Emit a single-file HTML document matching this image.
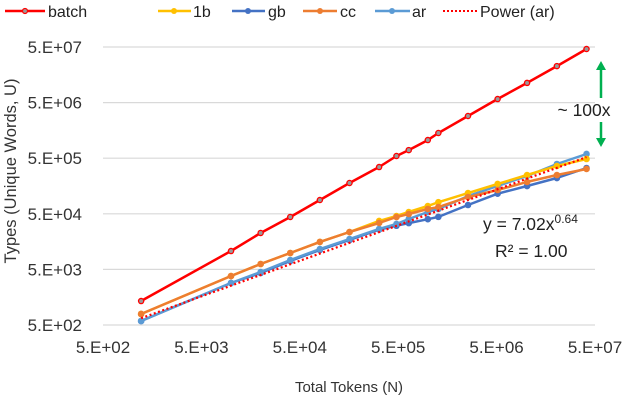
<!DOCTYPE html>
<html><head><meta charset="utf-8"><style>
body{margin:0;background:#fff;}
svg{display:block;font-family:"Liberation Sans",sans-serif;}
</style></head><body>
<svg id="chart" width="640" height="400" viewBox="0 0 640 400">
<g id="grid"></g>
<g id="ticks"></g>
<g id="series"></g>
<text transform="translate(16,171) rotate(-90)" text-anchor="middle" font-size="16.5" fill="#333">Types (Unique Words, U)</text>
<text x="349" y="392" text-anchor="middle" font-size="15" fill="#333">Total Tokens (N)</text>
<g font-size="16" fill="#222">
 <g><line x1="5" y1="11" x2="45" y2="11" stroke="#f00" stroke-width="2.5"/><circle cx="25" cy="11" r="2.5" fill="#999" stroke="#f00" stroke-width="1.2"/><text x="48" y="17">batch</text></g>
 <g><line x1="158" y1="11" x2="191" y2="11" stroke="#ffc000" stroke-width="2.5"/><circle cx="174" cy="11" r="3" fill="#ffc000"/><text x="193" y="17">1b</text></g>
 <g><line x1="232" y1="11" x2="265" y2="11" stroke="#4472c4" stroke-width="2.5"/><circle cx="248" cy="11" r="3" fill="#4472c4"/><text x="268" y="17">gb</text></g>
 <g><line x1="303" y1="11" x2="337" y2="11" stroke="#ed7d31" stroke-width="2.5"/><circle cx="320" cy="11" r="3" fill="#ed7d31"/><text x="340" y="17">cc</text></g>
 <g><line x1="375" y1="11" x2="410" y2="11" stroke="#5b9bd5" stroke-width="2.5"/><circle cx="392" cy="11" r="3" fill="#5b9bd5"/><text x="412" y="17">ar</text></g>
 <g><line x1="443" y1="11" x2="478" y2="11" stroke="#f00" stroke-width="2" stroke-dasharray="2,2"/><text x="480" y="17">Power (ar)</text></g>
</g>
<g>
 <line x1="601" y1="98" x2="601" y2="68" stroke="#00b050" stroke-width="2.5"/>
 <polygon points="596,70 606,70 601,61" fill="#00b050"/>
 <text x="584" y="116" text-anchor="middle" font-size="17.5" fill="#222">~ 100x</text>
 <line x1="601" y1="122" x2="601" y2="140" stroke="#00b050" stroke-width="2.5"/>
 <polygon points="596,138 606,138 601,147" fill="#00b050"/>
</g>
<g font-size="17.5" fill="#222">
 <text x="483" y="230">y = 7.02x<tspan font-size="12" dy="-7">0.64</tspan></text>
 <text x="495" y="257">R² = 1.00</text>
</g>
</svg>
<script>
const xTickVals=[5e2,5e3,5e4,5e5,5e6,5e7];
const yTickVals=[5e2,5e3,5e4,5e5,5e6,5e7];
const tickLabels=["5.E+02","5.E+03","5.E+04","5.E+05","5.E+06","5.E+07"];
const tokens=[1220,1e4,2e4,4e4,8e4,1.6e5,3.2e5,4.8e5,6.4e5,1e6,1.28e6,2.56e6,5.12e6,1.02e7,2.05e7,4.1e7];
const batchU=[1350,10700,22600,43800,88500,179000,347000,548000,700000,1060000,1420000,2870000,5800000,11300000,22700000,46000000];
const oneBU=[789,3800,6250,9860,15600,23500,37200,45600,53800,69000,81000,118000,172000,249000,362000,484000];
const gbU=[590,2845,4300,7080,11200,16900,26000,30500,34000,40000,44000,72000,115000,158000,220000,333000];
const ccU=[789,3800,6250,9860,15600,23500,34200,43800,49600,61000,66000,100000,134000,187000,249000,320000];
const arU=[590,2845,4490,7380,11600,17600,26700,32800,40300,53800,61000,104000,158000,239000,393000,596000];
const powA=7.02, powB=0.64;
const NS="http://www.w3.org/2000/svg";
const X0=103,X1=595,Y0=325,Y1=47;
function xs(v){return X0+(Math.log10(v)-Math.log10(5e2))/(Math.log10(5e7)-Math.log10(5e2))*(X1-X0);}
function ys(v){return Y0-(Math.log10(v)-Math.log10(5e2))/(Math.log10(5e7)-Math.log10(5e2))*(Y0-Y1);}
function mk(t,a,p){const e=document.createElementNS(NS,t);for(const k in a)e.setAttribute(k,a[k]);p.appendChild(e);return e;}
const grid=document.getElementById('grid'),ticks=document.getElementById('ticks'),ser=document.getElementById('series');
yTickVals.forEach((v,i)=>{
 const l=mk('line',{x1:X0,x2:X1,y1:ys(v),y2:ys(v),stroke:'#d9d9d9','stroke-width':1.2},grid);
 
 
 const t=mk('text',{x:82,y:ys(v)+6,'text-anchor':'end','font-size':17,fill:'#333'},ticks);
 t.textContent=tickLabels[i];
 
 
});
xTickVals.forEach((v,i)=>{
 const t=mk('text',{x:xs(v),y:353,'text-anchor':'middle','font-size':17,fill:'#333'},ticks);
 t.textContent=tickLabels[i];
 
 
});
function series(name,vals,color,open){
 const g=mk('g',{},ser);
 
 
 const pts=tokens.map((n,i)=>xs(n).toFixed(1)+','+ys(vals[i]).toFixed(1)).join(' ');
 const pl=mk('polyline',{points:pts,fill:'none',stroke:color,'stroke-width':2.5,'stroke-linejoin':'round'},g);
 
 
 tokens.forEach((n,i)=>{
  const c=mk('circle',open?{cx:xs(n),cy:ys(vals[i]),r:2.6,fill:'#999',stroke:color,'stroke-width':1.3}:{cx:xs(n),cy:ys(vals[i]),r:3.3,fill:color},g);
  
  
 });
}
series('gb',gbU,'#4472c4');
series('ar',arU,'#5b9bd5');
series('1b',oneBU,'#ffc000');
series('cc',ccU,'#ed7d31');
series('batch',batchU,'#ff0000',true);
const fp=[];
for(let k=0;k<=40;k++){const n=Math.pow(10,Math.log10(tokens[0])+k/40*(Math.log10(tokens[tokens.length-1])-Math.log10(tokens[0])));fp.push(xs(n).toFixed(1)+','+ys(powA*Math.pow(n,powB)).toFixed(1));}
const pw=mk('polyline',{points:fp.join(' '),fill:'none',stroke:'#f00','stroke-width':2.2,'stroke-dasharray':'2,2.5'},ser);


</script>
</body></html>
